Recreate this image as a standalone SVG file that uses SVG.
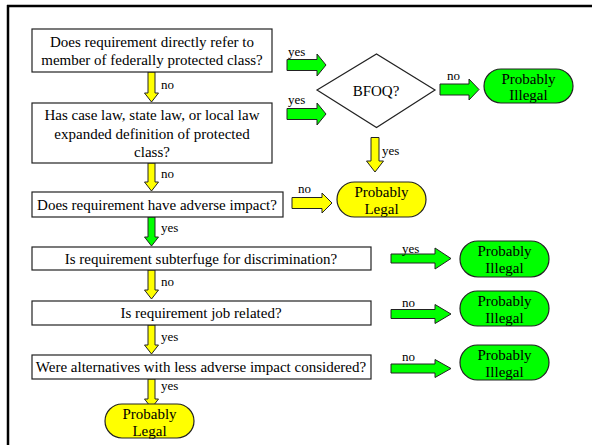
<svg xmlns="http://www.w3.org/2000/svg" width="592" height="445" viewBox="0 0 592 445">
<style>
.box{fill:#fff;stroke:#222;stroke-width:1.2}
.term-g{fill:#00ff00;stroke:#222;stroke-width:1.2}
.term-y{fill:#ffff00;stroke:#222;stroke-width:1.2}
.arr-g{fill:#00ff00;stroke:#222;stroke-width:1}
.arr-y{fill:#ffff00;stroke:#222;stroke-width:1}
.t{font-family:"Liberation Serif","Times New Roman",serif;font-size:15px;fill:#000;text-anchor:middle}
.lbl{font-family:"Liberation Serif","Times New Roman",serif;font-size:13px;fill:#000}
.frame{stroke:#000;stroke-width:2.5;fill:none}
</style>
<rect width="592" height="445" fill="#fff"/>
<g id="frame">
<line class="frame" x1="7" y1="6" x2="592" y2="6"/>
<line class="frame" x1="8" y1="5" x2="8" y2="445"/>
</g>
<g id="connectors">
<polygon class="arr-y" points="148,72 155,72 155,93 158.5,93 151.5,102 144.5,93 148,93"/>
<polygon class="arr-y" points="148,163 155,163 155,182 158.5,182 151.5,191 144.5,182 148,182"/>
<polygon class="arr-g" points="148,217 155,217 155,237 158.5,237 151.5,246 144.5,237 148,237"/>
<polygon class="arr-y" points="148,270 155,270 155,290 158.5,290 151.5,299 144.5,290 148,290"/>
<polygon class="arr-y" points="148,325 155,325 155,345 158.5,345 151.5,354 144.5,345 148,345"/>
<polygon class="arr-y" points="148,379 155,379 155,399 158.5,399 151.5,408 144.5,399 148,399"/>
<polygon class="arr-y" points="371,137.5 379,137.5 379,161 383.5,161 375,172 366.5,161 371,161"/>
<polygon class="arr-g" points="287,59.5 317,59.5 317,54 326,65 317,76 317,70.5 287,70.5"/>
<polygon class="arr-g" points="287,108.5 317,108.5 317,103 326,114 317,125 317,119.5 287,119.5"/>
<polygon class="arr-g" points="440,84 469,84 469,79 479,89.5 469,100 469,95 440,95"/>
<polygon class="arr-y" points="292,197.5 322,197.5 322,193 332,203 322,213 322,208.5 292,208.5"/>
<polygon class="arr-g" points="391,254 435,254 435,248 451,258.5 435,269 435,263 391,263"/>
<polygon class="arr-g" points="391,309.5 435,309.5 435,304.5 451,314 435,323.5 435,318.5 391,318.5"/>
<polygon class="arr-g" points="391,364 435,364 435,359.5 451,368.5 435,377.5 435,373 391,373"/>
<text class="lbl" x="161" y="89">no</text>
<text class="lbl" x="161" y="178">no</text>
<text class="lbl" x="161" y="231.5">yes</text>
<text class="lbl" x="161" y="286">no</text>
<text class="lbl" x="161" y="340.5">yes</text>
<text class="lbl" x="161" y="390">yes</text>
<text class="lbl" x="288" y="55.5">yes</text>
<text class="lbl" x="288" y="104">yes</text>
<text class="lbl" x="447" y="80">no</text>
<text class="lbl" x="382" y="155">yes</text>
<text class="lbl" x="298" y="192.5">no</text>
<text class="lbl" x="402" y="252.5">yes</text>
<text class="lbl" x="402" y="306.5">no</text>
<text class="lbl" x="402" y="360.5">no</text>
</g>
<g id="q1">
<rect class="box" x="32" y="29" width="240" height="43"/>
<text class="t" x="152" y="47">Does requirement directly refer to</text>
<text class="t" x="152" y="65">member of federally protected class?</text>
</g>
<g id="q2">
<rect class="box" x="32" y="103" width="240" height="60"/>
<text class="t" x="152" y="120">Has case law, state law, or local law</text>
<text class="t" x="152" y="138.5">expanded definition of protected</text>
<text class="t" x="152" y="157">class?</text>
</g>
<g id="bfoq">
<polygon class="box" points="317,90 376.5,54 435,90 376.5,127.5"/>
<text class="t" x="376" y="96">BFOQ?</text>
</g>
<g id="illegal1">
<rect class="term-g" x="484" y="69" width="89" height="34" rx="17"/>
<text class="t" x="528.5" y="83.5">Probably</text>
<text class="t" x="528.5" y="100">Illegal</text>
</g>
<g id="q3">
<rect class="box" x="32" y="192" width="251" height="25"/>
<text class="t" x="157" y="210">Does requirement have adverse impact?</text>
</g>
<g id="legal1">
<rect class="term-y" x="337" y="182" width="89" height="35" rx="17.5"/>
<text class="t" x="381.5" y="196.5">Probably</text>
<text class="t" x="381.5" y="213.5">Legal</text>
</g>
<g id="q4">
<rect class="box" x="32" y="247" width="339" height="23"/>
<text class="t" x="201" y="263.5">Is requirement subterfuge for discrimination?</text>
</g>
<g id="illegal2">
<rect class="term-g" x="460" y="241" width="89" height="36" rx="18"/>
<text class="t" x="504.5" y="255.5">Probably</text>
<text class="t" x="504.5" y="272.5">Illegal</text>
</g>
<g id="q5">
<rect class="box" x="32" y="301" width="339" height="24"/>
<text class="t" x="201" y="317.5">Is requirement job related?</text>
</g>
<g id="illegal3">
<rect class="term-g" x="460" y="291" width="89" height="35" rx="17.5"/>
<text class="t" x="504.5" y="305.5">Probably</text>
<text class="t" x="504.5" y="322.5">Illegal</text>
</g>
<g id="q6">
<rect class="box" x="32" y="355" width="339" height="24"/>
<text class="t" x="201" y="371.5">Were alternatives with less adverse impact considered?</text>
</g>
<g id="illegal4">
<rect class="term-g" x="460" y="345" width="89" height="35" rx="17.5"/>
<text class="t" x="504.5" y="359.5">Probably</text>
<text class="t" x="504.5" y="376.5">Illegal</text>
</g>
<g id="legal2">
<rect class="term-y" x="105" y="404" width="89" height="34" rx="17"/>
<text class="t" x="149.5" y="418.5">Probably</text>
<text class="t" x="149.5" y="435.5">Legal</text>
</g>
</svg>
